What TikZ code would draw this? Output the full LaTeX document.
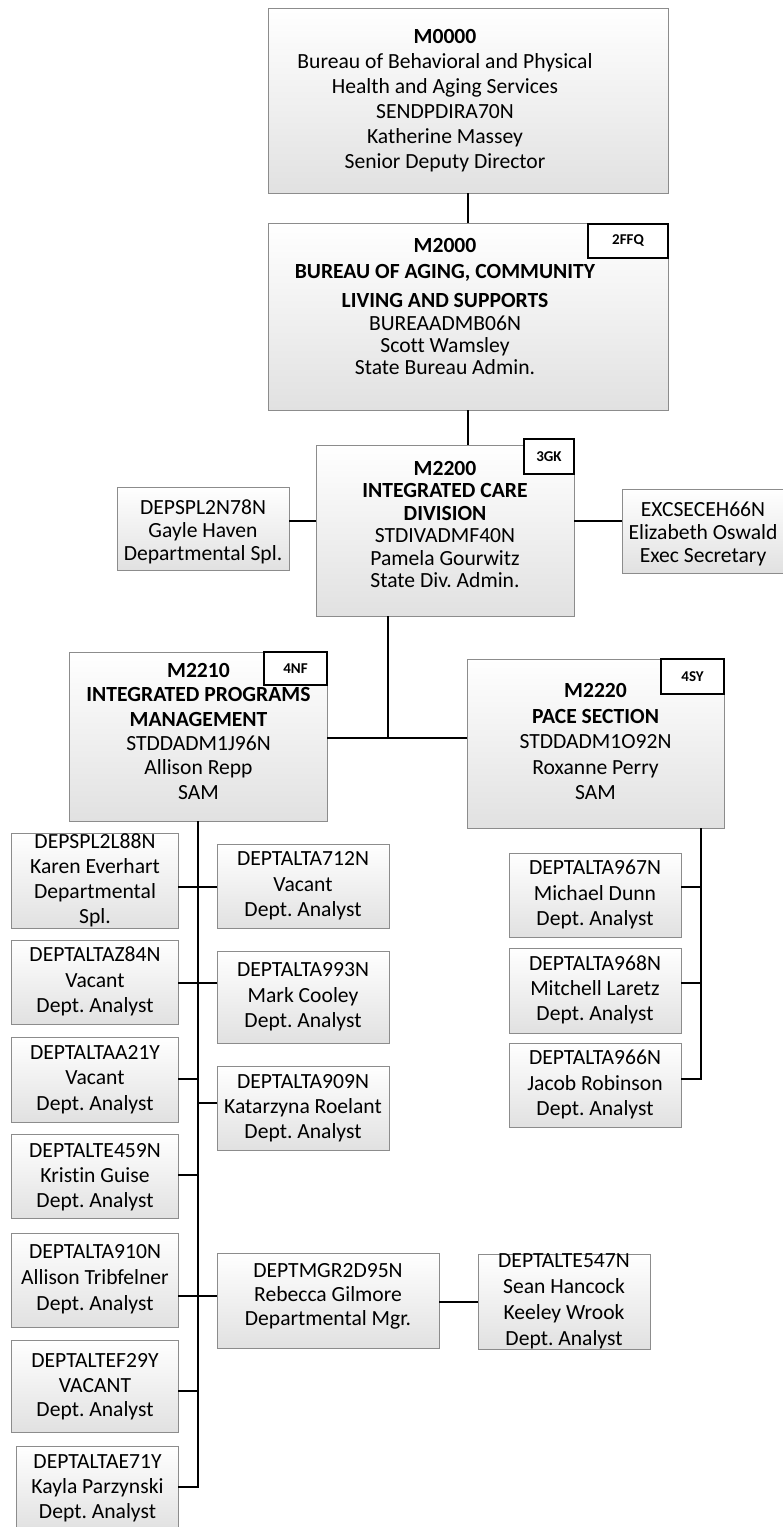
\documentclass[tikz,border=0pt]{standalone}
\usepackage{fontspec}
\setmainfont{Carlito}[Ligatures=NoCommon]
\usetikzlibrary{calc}
\frenchspacing
\definecolor{bordergray}{RGB}{140,140,140}
\definecolor{boxbottom}{RGB}{225,225,225}
\newsavebox\tbox
% #1 line spacing, #2 vertical offset (down), #3 horizontal offset, #4 lines
\newcommand\mkt[4]{\sbox\tbox{\fontsize{21.6bp}{#1}\selectfont\frenchspacing\begin{tabular}{@{}c@{}}#4\end{tabular}}%
\rlap{\kern#3\makebox[0pt]{\raisebox{\dimexpr-0.5\ht\tbox+0.5\dp\tbox-#2\relax}[0pt][0pt]{\usebox\tbox}}}}
\newcommand\sm[1]{\mkt{25.5bp}{0bp}{0bp}{#1}}
\begin{document}
\begin{tikzpicture}[x=1bp,y=-1bp,
  box/.style={draw=bordergray, line width=1bp, top color=white, bottom color=boxbottom,
    inner sep=0pt, outer sep=0pt, rectangle},
  badge/.style={draw=black, line width=1.5bp, fill=white, inner sep=0pt, outer sep=0pt,
    font=\fontsize{15bp}{17bp}\selectfont\bfseries},
  conn/.style={draw=black, line width=2bp}]
\useasboundingbox (0,0) rectangle (782,1527);

% top boxes
\node[box, minimum width=400bp, minimum height=184bp] (m0) at (468,101)
  {\mkt{25bp}{0bp}{-23bp}{\textbf{M0000}\\ Bureau of Behavioral and Physical\\ Health and Aging Services\\ SENDPDIRA70N\\ Katherine Massey\\ Senior Deputy Director}};
\node[box, minimum width=400bp, minimum height=187bp] (m2000) at (468,316.5)
  {\mkt{22bp}{-7.5bp}{-23bp}{\textbf{M2000}\\[4bp] \textbf{BUREAU OF AGING, COMMUNITY}\\[7bp] \textbf{LIVING AND SUPPORTS}\\[1bp] BUREAADMB06N\\ Scott Wamsley\\ State Bureau Admin.}};
\node[badge, minimum width=80bp, minimum height=34bp] (b2000) at (628,241) {2FFQ};

\node[box, minimum width=258bp, minimum height=171bp] (m2200) at (445,530.5)
  {\mkt{22.5bp}{-3.5bp}{0bp}{\textbf{M2200}\\ \textbf{INTEGRATED CARE}\\ \textbf{DIVISION}\\ STDIVADMF40N\\ Pamela Gourwitz\\ State Div. Admin.}};
\node[badge, minimum width=50bp, minimum height=35bp] (b2200) at (549,456.5) {3GK};

\node[box, minimum width=172bp, minimum height=83bp] (spl) at (203,528.5)
  {\mkt{23bp}{4.5bp}{0bp}{DEPSPL2N78N\\ Gayle Haven\\ Departmental Spl.}};
\node[box, minimum width=162bp, minimum height=84bp] (exc) at (703,531)
  {\mkt{23bp}{4bp}{0bp}{EXCSECEH66N\\ Elizabeth Oswald\\ Exec Secretary}};

\node[box, minimum width=257bp, minimum height=169bp] (m2210) at (198.5,736.5)
  {\mkt{24.3bp}{-3bp}{0bp}{\textbf{M2210}\\ \textbf{INTEGRATED PROGRAMS}\\ \textbf{MANAGEMENT}\\ STDDADM1J96N\\ Allison Repp\\ SAM}};
\node[badge, minimum width=63bp, minimum height=33bp] (b2210) at (295.5,668.5) {4NF};

\node[box, minimum width=257bp, minimum height=169bp] (m2220) at (595.5,743.5)
  {\mkt{25.6bp}{0bp}{0bp}{\textbf{M2220}\\ \textbf{PACE SECTION}\\ STDDADM1O92N\\ Roxanne Perry\\ SAM}};
\node[badge, minimum width=63bp, minimum height=35bp] (b2220) at (692.5,676.5) {4SY};

% left column
\node[box, minimum width=166bp, minimum height=95bp] (karen) at (95,880.5)
  {\mkt{25bp}{0bp}{0bp}{DEPSPL2L88N\\ Karen Everhart\\ Departmental\\ Spl.}};
\node[box, minimum width=166bp, minimum height=84bp] (az84) at (95,982) {\sm{DEPTALTAZ84N\\ Vacant\\ Dept. Analyst}};
\node[box, minimum width=166bp, minimum height=85bp] (aa21) at (95,1079.5) {\sm{DEPTALTAA21Y\\ Vacant\\ Dept. Analyst}};
\node[box, minimum width=166bp, minimum height=84bp] (e459) at (95,1176) {\mkt{25bp}{1bp}{0bp}{DEPTALTE459N\\ Kristin Guise\\ Dept. Analyst}};
\node[box, minimum width=166bp, minimum height=94bp] (a910) at (95,1280) {\mkt{26bp}{-1bp}{0bp}{DEPTALTA910N\\ Allison Tribfelner\\ Dept. Analyst}};
\node[box, minimum width=166bp, minimum height=92bp] (ef29) at (95,1386) {\mkt{24.5bp}{1.5bp}{0bp}{DEPTALTEF29Y\\ VACANT\\ Dept. Analyst}};
\node[box, minimum width=161bp, minimum height=84bp] (ae71) at (97.5,1488) {\mkt{25bp}{0bp}{0bp}{DEPTALTAE71Y\\ Kayla Parzynski\\ Dept. Analyst}};

% middle column
\node[box, minimum width=172bp, minimum height=84bp] (a712) at (303,886) {\sm{DEPTALTA712N\\ Vacant\\ Dept. Analyst}};
\node[box, minimum width=172bp, minimum height=92bp] (a993) at (303,997) {\sm{DEPTALTA993N\\ Mark Cooley\\ Dept. Analyst}};
\node[box, minimum width=172bp, minimum height=84bp] (a909) at (303,1108) {\mkt{25bp}{0bp}{0bp}{DEPTALTA909N\\ Katarzyna Roelant\\ Dept. Analyst}};
\node[box, minimum width=222bp, minimum height=95bp] (mgr) at (328,1300.5) {\mkt{24bp}{-3.5bp}{0bp}{DEPTMGR2D95N\\ Rebecca Gilmore\\ Departmental Mgr.}};
\node[box, minimum width=172bp, minimum height=95bp] (te547) at (564,1301.5) {\mkt{26bp}{0bp}{0bp}{DEPTALTE547N\\ Sean Hancock\\ Keeley Wrook\\ Dept. Analyst}};

% right column
\node[box, minimum width=172bp, minimum height=84bp] (a967) at (595,895) {\sm{DEPTALTA967N\\ Michael Dunn\\ Dept. Analyst}};
\node[box, minimum width=172bp, minimum height=85bp] (a968) at (595,990.5) {\mkt{25bp}{0bp}{0bp}{DEPTALTA968N\\ Mitchell Laretz\\ Dept. Analyst}};
\node[box, minimum width=172bp, minimum height=84bp] (a966) at (595,1085) {\sm{DEPTALTA966N\\ Jacob Robinson\\ Dept. Analyst}};

% junction coordinates
\coordinate (h1) at (445,521);
\coordinate (j1) at (388,738);
\coordinate (r1) at (198,887);
\coordinate (r2) at (198,983);
\coordinate (r3) at (198,1079);
\coordinate (r4) at (198,1103);
\coordinate (r5) at (198,1175);
\coordinate (r6) at (198,1296);
\coordinate (r7) at (198,1391);
\coordinate (r8) at (198,1487);
\coordinate (s1) at (701,887);
\coordinate (s2) at (701,983);
\coordinate (s3) at (701,1079);
\coordinate (q1) at (458,1302);

% connectors
\draw[conn] (m0.south) -- (m2000.north);
\draw[conn] (m2000.south) -- (m2000.south |- m2200.north);
\draw[conn] (spl.east |- h1) -- (m2200.west |- h1);
\draw[conn] (m2200.east |- h1) -- (exc.west |- h1);
\draw[conn] (m2200.south -| j1) -- (j1);
\draw[conn] (m2210.east |- j1) -- (m2220.west |- j1);
\draw[conn] (m2210.south -| r8) -- (r8) -- (ae71.east |- r8);
\draw[conn] (karen.east |- r1) -- (a712.west |- r1);
\draw[conn] (az84.east |- r2) -- (a993.west |- r2);
\draw[conn] (aa21.east |- r3) -- (r3);
\draw[conn] (r4) -- (a909.west |- r4);
\draw[conn] (e459.east |- r5) -- (r5);
\draw[conn] (a910.east |- r6) -- (mgr.west |- r6);
\draw[conn] (ef29.east |- r7) -- (r7);
\draw[conn] (mgr.east |- q1) -- (te547.west |- q1);
\draw[conn] (m2220.south -| s3) -- (s3) -- (a966.east |- s3);
\draw[conn] (a967.east |- s1) -- (s1);
\draw[conn] (a968.east |- s2) -- (s2);
\end{tikzpicture}
\end{document}
